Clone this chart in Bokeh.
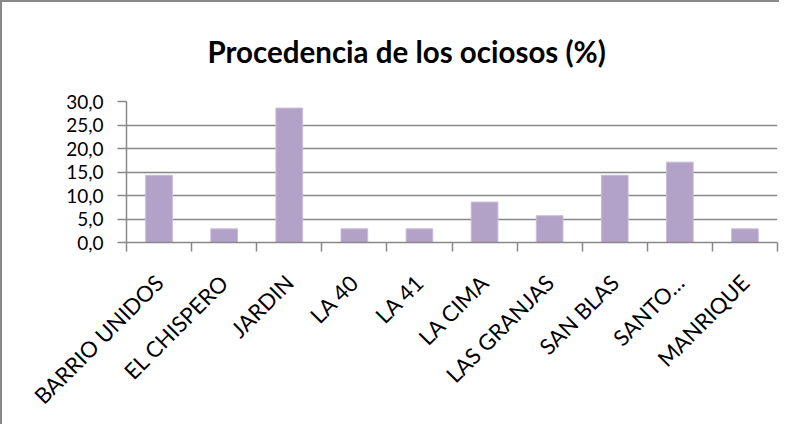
from bokeh.plotting import figure
from bokeh.models import FixedTicker, ColumnDataSource
from bokeh.embed import file_html
from bokeh.resources import INLINE
import math

categories = ["BARRIO UNIDOS", "EL CHISPERO", "JARDIN", "LA 40", "LA 41",
              "LA CIMA", "LAS GRANJAS", "SAN BLAS", "SANTO…", "MANRIQUE"]
values = [14.3, 2.9, 28.6, 2.9, 2.9, 8.6, 5.7, 14.3, 17.1, 2.9]
y_ticks = [0, 5, 10, 15, 20, 25, 30]
y_tick_labels = ["0,0", "5,0", "10,0", "15,0", "20,0", "25,0", "30,0"]
title_text = "Procedencia de los ociosos (%)"

centers = [i + 0.5 for i in range(len(categories))]
bounds = list(range(len(categories) + 1))
src = ColumnDataSource(dict(x=centers, top=values))

FONT = "Lato"
GRID = "#888888"

p = figure(width=779, height=424, x_range=(0, len(categories)), y_range=(0, 30),
           output_backend="svg", toolbar_location=None, tools="",
           min_border_left=124, min_border_right=4, min_border_top=98,
           min_border_bottom=184)
p.styles = {"border-left": "2px solid #898989", "border-top": "2px solid #898989"}
p.outline_line_color = None
p.background_fill_color = "white"
p.border_fill_color = "white"

p.vbar(x="x", top="top", width=0.41, bottom=0, source=src,
       fill_color="#B3A2C7", line_color="#C9BCD8", line_width=1)

p.title.text = title_text
p.title.align = "left"
p.title.vertical_align = "top"
p.title.offset = 81
p.title.text_font = FONT
p.title.text_font_style = "bold"
p.title.text_font_size = "29.5px"
p.title.text_color = "black"
p.title.standoff = 62

# y axis
p.yaxis.ticker = FixedTicker(ticks=y_ticks)
p.yaxis.major_label_overrides = {float(t): l for t, l in zip(y_ticks, y_tick_labels)}
p.yaxis.major_label_text_font = FONT
p.yaxis.major_label_text_font_size = "19px"
p.yaxis.major_label_text_color = "black"
p.yaxis.major_label_standoff = 14
p.yaxis.major_tick_in = 0
p.yaxis.major_tick_out = 9
p.yaxis.minor_tick_line_color = None
p.yaxis.axis_line_color = GRID
p.yaxis.major_tick_line_color = GRID
p.yaxis.axis_line_width = 1.5
p.yaxis.major_tick_line_width = 1.5

# x axis: labels at centers, ticks at boundaries
p.xaxis.ticker = FixedTicker(ticks=centers, minor_ticks=bounds)
p.xaxis.major_label_overrides = {float(c): n for c, n in zip(centers, categories)}
p.xaxis.major_label_orientation = math.pi / 4
p.xaxis.major_label_text_font = FONT
p.xaxis.major_label_text_font_size = "22px"
p.xaxis.major_label_text_color = "black"
p.xaxis.major_label_standoff = 27
p.xaxis.major_tick_line_color = None
p.xaxis.minor_tick_in = 0
p.xaxis.minor_tick_out = 9
p.xaxis.minor_tick_line_color = GRID
p.xaxis.minor_tick_line_width = 1.5
p.xaxis.axis_line_color = GRID
p.xaxis.axis_line_width = 1.5

p.xgrid.visible = False
p.ygrid.grid_line_color = GRID
p.ygrid.grid_line_width = 1.5

open("out.html", "w").write(file_html(p, INLINE))
